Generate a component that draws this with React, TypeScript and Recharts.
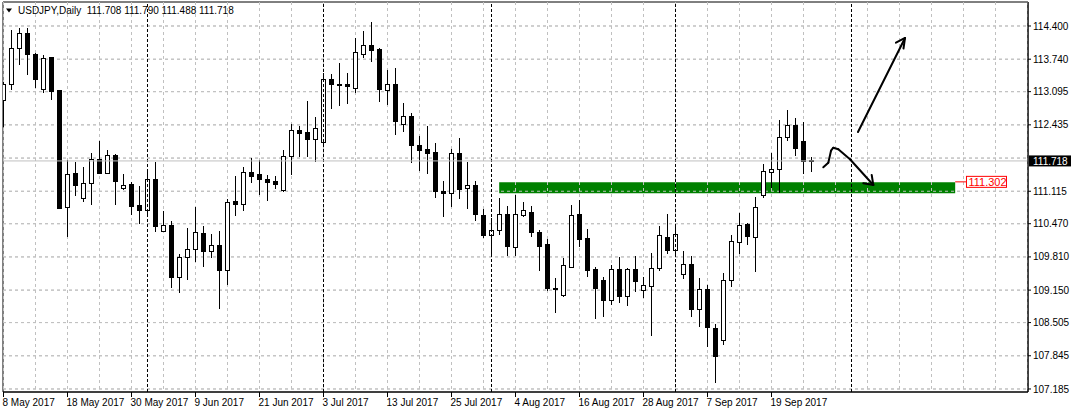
import React from 'react';
import { ComposedChart, Bar, XAxis, YAxis, CartesianGrid, ReferenceLine, ReferenceArea } from 'recharts';

const FONT = "'Liberation Sans', Arial, sans-serif";

const opens = [112.929, 113.228, 113.957, 114.255, 113.838, 113.128, 113.770, 113.114, 110.797, 111.459,
  110.976, 111.274, 111.751, 111.472, 111.816, 111.166, 111.240, 110.823, 110.729, 111.353,
  110.312, 110.439, 109.405, 109.803, 109.962, 110.280, 109.914, 110.041, 109.537, 110.902,
  110.848, 111.492, 111.439, 111.339, 111.300, 111.127, 111.802, 112.327, 112.279, 112.148,
  112.081, 113.341, 113.241, 113.241, 113.162, 113.838, 114.003, 113.923, 113.114, 113.247,
  112.452, 112.597, 112.015, 111.936, 111.876, 111.107, 111.075, 111.856, 111.166, 111.220,
  110.624, 110.232, 110.332, 110.658, 109.994, 110.630, 110.697, 110.300, 110.047, 109.183,
  109.034, 109.604, 110.644, 110.167, 109.550, 109.332, 108.940, 109.550, 109.020, 109.550,
  109.139, 109.219, 109.584, 110.200, 109.934, 109.457, 109.650, 108.769, 109.167, 108.392,
  108.145, 109.338, 110.101, 110.459, 110.200, 111.021, 111.484, 111.552, 112.188, 112.432,
  112.114, 111.708];

const highs = [113.287, 114.321, 114.355, 114.355, 113.858, 113.824, 113.790, 113.128, 111.737, 111.703,
  111.604, 111.870, 112.120, 111.936, 111.850, 111.453, 111.294, 111.220, 111.538, 111.691,
  110.723, 110.524, 109.868, 110.379, 110.797, 110.425, 110.260, 110.326, 110.956, 111.419,
  111.604, 111.783, 111.737, 111.439, 111.419, 111.936, 112.452, 112.413, 112.910, 112.586,
  113.472, 113.446, 113.671, 113.466, 114.156, 114.301, 114.480, 113.957, 113.526, 113.559,
  112.864, 112.665, 112.214, 112.413, 112.069, 111.319, 111.955, 112.180, 111.703, 111.319,
  110.763, 110.578, 110.976, 110.823, 111.041, 110.896, 110.823, 110.346, 110.167, 109.385,
  109.795, 110.842, 110.942, 110.365, 109.604, 109.417, 109.650, 109.815, 109.584, 109.829,
  109.417, 109.882, 110.425, 110.664, 110.465, 109.928, 109.829, 109.385, 109.252, 108.477,
  109.485, 110.246, 110.677, 110.479, 111.007, 111.651, 111.870, 112.532, 112.731, 112.566,
  112.498, 111.790];

const lows = [112.393, 113.128, 113.625, 113.426, 113.162, 113.063, 112.929, 110.763, 110.212, 111.021,
  110.908, 110.842, 111.459, 111.459, 110.842, 111.141, 110.644, 110.465, 110.610, 110.312,
  110.300, 109.199, 109.099, 109.352, 109.709, 109.616, 109.795, 108.775, 109.252, 110.624,
  110.729, 111.286, 111.041, 110.922, 111.154, 111.107, 111.439, 111.802, 111.791, 111.703,
  112.035, 112.745, 112.810, 112.850, 113.069, 113.764, 113.691, 112.896, 112.830, 112.234,
  112.299, 111.671, 111.524, 111.459, 110.988, 110.610, 110.797, 110.962, 110.769, 110.530,
  110.192, 109.815, 110.246, 109.829, 109.829, 110.598, 110.212, 109.537, 109.133, 108.702,
  109.020, 109.584, 110.014, 109.417, 108.577, 108.622, 108.855, 108.901, 108.841, 109.107,
  109.000, 108.239, 109.537, 109.868, 109.849, 109.372, 108.622, 108.423, 108.026, 107.310,
  108.060, 109.219, 109.868, 110.047, 109.517, 110.976, 111.174, 111.087, 112.120, 111.816,
  111.459, 111.488];

const closes = [113.228, 113.957, 114.255, 113.838, 113.341, 113.758, 113.094, 110.777, 111.453, 111.226,
  111.274, 111.751, 111.472, 111.816, 111.306, 111.220, 110.809, 110.729, 111.353, 110.411,
  110.439, 109.405, 109.803, 109.962, 110.300, 109.914, 110.041, 109.531, 110.896, 110.848,
  111.492, 111.405, 111.339, 111.286, 111.246, 111.802, 112.327, 112.267, 112.148, 112.367,
  113.341, 113.241, 113.222, 113.194, 113.877, 114.003, 113.909, 113.142, 113.247, 112.498,
  112.611, 112.021, 111.922, 111.862, 111.107, 111.067, 111.856, 111.141, 111.220, 110.644,
  110.232, 110.340, 110.658, 110.014, 110.658, 110.723, 110.292, 110.014, 109.173, 109.153,
  109.630, 110.638, 110.161, 109.537, 109.173, 108.940, 109.550, 109.020, 109.550, 109.318,
  109.232, 109.584, 110.226, 109.934, 110.246, 109.664, 108.769, 109.153, 108.404, 107.827,
  109.338, 110.113, 110.431, 110.212, 110.789, 111.504, 111.552, 112.188, 112.432, 111.969,
  111.703, 111.718];

const dateTicks = [0, 8, 16, 24, 32, 40, 48, 56, 64, 72, 80, 88, 96];
const dateLabels = ['8 May 2017', '18 May 2017', '30 May 2017', '9 Jun 2017', '21 Jun 2017', '3 Jul 2017',
  '13 Jul 2017', '25 Jul 2017', '4 Aug 2017', '16 Aug 2017', '28 Aug 2017', '7 Sep 2017', '19 Sep 2017'];
const priceTicks = [107.185, 107.845, 108.505, 109.15, 109.81, 110.47, 111.115, 112.435, 113.095, 113.74, 114.4];
const priceGrid = [107.185, 107.845, 108.505, 109.15, 109.81, 110.47, 111.115, 111.775, 112.435, 113.095, 113.74, 114.4];
const gridBars = Array.from({ length: 33 }, (_, k) => k * 4);
const monthSeparators = [18, 40, 61, 84, 106];

const xDomain = [-0.0625, 128.0625];
const yDomain = [107.125, 114.877];

const lastPrice = 111.718;
const levelPrice = 111.302;
const zoneX = [61.96, 118.96];
const zoneY = [111.075, 111.293];
const levelTagX = [118.96, 120.31];

const upArrow = [[106.81, 112.293], [112.69, 114.162]];
const upArrowHead = [[111.56, 114.068], [112.69, 114.162], [112.5, 113.953]];
const curveArrow = [[102.475, 111.592], [103.1, 111.683], [103.44, 111.922], [103.725, 111.981],
  [104.35, 111.95], [105.81, 111.751], [108.725, 111.24]];
const curveArrowHead = [[107.475, 111.274], [108.725, 111.24], [108.525, 111.439]];

const data = opens.map((o, i) => ({ i, o, h: highs[i], l: lows[i], c: closes[i] }));

const toSegments = (pts: number[][]) => pts.slice(1).map((p, k) => [pts[k], p]);
const annotationSegments = [
  ...toSegments(upArrow), ...toSegments(upArrowHead),
  ...toSegments(curveArrow), ...toSegments(curveArrowHead),
];

const snap = (v: number) => Math.round(v - 0.5) + 0.5;

const Candle = (props: any) => {
  const { x, y, width, height, payload } = props;
  if (!payload || payload.h == null) return null;
  const { o, h, l, c } = payload;
  const top = Math.min(y, y + height);
  const span = Math.abs(height);
  const k = span / (h - l);
  const py = (v: number) => top + (h - v) * k;
  const cx = snap(x + width / 2);
  const yo = snap(py(o));
  const yc = snap(py(c));
  const bt = Math.min(yo, yc);
  const bb = Math.max(yo, yc);
  const bull = c >= o;
  return (
    <g>
      <line x1={cx} x2={cx} y1={Math.round(py(h))} y2={Math.round(py(l))} stroke="#000" strokeWidth={1} />
      {bb - bt < 1 ? (
        <line x1={cx - 2.5} x2={cx + 2.5} y1={bt} y2={bt} stroke="#000" strokeWidth={1} />
      ) : (
        <rect x={cx - 2} y={bt} width={4} height={bb - bt} fill={bull ? '#fff' : '#000'} stroke="#000" strokeWidth={1} />
      )}
    </g>
  );
};

const DateTick = (props: any) => {
  const { x, y, payload } = props;
  const idx = dateTicks.indexOf(payload.value);
  if (idx < 0) return null;
  return (
    <text x={x - 1} y={y} dy="0.71em" textAnchor="start" fontSize={10} fontFamily={FONT} fill="#000">
      {dateLabels[idx]}
    </text>
  );
};

const LastPriceTag = (props: any) => {
  const vb = props.viewBox || {};
  const xr = vb.x + vb.width;
  const cy = vb.y;
  return (
    <g>
      <rect x={xr + 1} y={cy - 5.5} width={43} height={11} fill="#000" />
      <text x={xr + 5} y={cy} dy="0.36em" fontSize={10} fontFamily={FONT} fill="#fff">{lastPrice.toFixed(3)}</text>
    </g>
  );
};

const LevelTag = (props: any) => {
  const vb = props.viewBox || {};
  const xr = vb.x + vb.width;
  const cy = vb.y;
  return (
    <g>
      <rect x={xr + 0.5} y={cy - 5.5} width={40} height={11} fill="#fff" stroke="#ff0000" strokeWidth={1} />
      <text x={xr + 2.5} y={cy + 0.5} dy="0.36em" fontSize={11} fontFamily={FONT} fill="#ff0000">{levelPrice.toFixed(3)}</text>
    </g>
  );
};

export default function App() {
  return (
    <div style={{ position: 'absolute', left: 0, top: 0, width: 1071, height: 413, background: '#fff' }}>
      <ComposedChart
        width={1071}
        height={413}
        data={data}
        margin={{ top: 2, right: 0, bottom: 0, left: 3 }}
        style={{ background: '#fff' }}
      >
        <CartesianGrid
          stroke="#c0c0c0"
          strokeDasharray="3 3"
          horizontalValues={priceGrid}
          verticalValues={gridBars}
        />
        <XAxis
          dataKey="i"
          type="number"
          domain={xDomain}
          allowDataOverflow
          ticks={dateTicks}
          interval={0}
          tick={<DateTick />}
          tickSize={5}
          tickMargin={2}
          height={21}
          axisLine={{ stroke: '#000' }}
          tickLine={{ stroke: '#000' }}
        />
        <YAxis
          orientation="right"
          type="number"
          domain={yDomain}
          allowDataOverflow
          ticks={priceTicks}
          interval={0}
          width={43}
          tickSize={3}
          tickMargin={2}
          tickFormatter={(v: number) => v.toFixed(3)}
          tick={{ fontSize: 10, fontFamily: FONT, fill: '#000' }}
          axisLine={{ stroke: '#000' }}
          tickLine={{ stroke: '#000' }}
        />
        <ReferenceArea x1={zoneX[0]} x2={zoneX[1]} y1={zoneY[0]} y2={zoneY[1]} fill="#008000" fillOpacity={1} stroke="none" />
        <CartesianGrid
          stroke="#c0c0c0"
          strokeDasharray="3 3"
          horizontalValues={priceGrid}
          verticalValues={gridBars}
          zIndex={150}
        />
        {monthSeparators.map((m) => (
          <ReferenceLine key={'m' + m} x={m} stroke="#000" strokeDasharray="3 2" strokeWidth={1} />
        ))}
        <ReferenceLine y={lastPrice} stroke="#c0c0c0" strokeWidth={1} label={LastPriceTag} />
        <Bar dataKey={(d: any) => [d.l, d.h]} barSize={6} shape={Candle} isAnimationActive={false} />
        <ReferenceLine
          segment={[{ x: levelTagX[0], y: levelPrice }, { x: levelTagX[1], y: levelPrice }]}
          stroke="#ff0000"
          strokeWidth={1}
          ifOverflow="visible"
          label={LevelTag}
        />
        {annotationSegments.map((s, k) => (
          <ReferenceLine
            key={'a' + k}
            segment={[{ x: s[0][0], y: s[0][1] }, { x: s[1][0], y: s[1][1] }]}
            stroke="#000"
            strokeWidth={2}
            strokeLinecap="round"
            ifOverflow="visible"
          />
        ))}
        <ReferenceArea x1={xDomain[0]} x2={xDomain[1]} y1={yDomain[0]} y2={yDomain[1]} fill="none" stroke="#000" strokeWidth={1} />
      </ComposedChart>
      <svg style={{ position: 'absolute', left: 0, top: 0 }} width={16} height={16}>
        <polygon points="6,8.5 12,8.5 9,12.5" fill="#000" />
      </svg>
      <div
        style={{
          position: 'absolute', left: 18, top: 5, fontSize: 10, lineHeight: '12px',
          fontFamily: FONT, color: '#000', whiteSpace: 'pre',
        }}
      >
        {'USDJPY,Daily  111.708 111.790 111.488 111.718'}
      </div>
    </div>
  );
}
